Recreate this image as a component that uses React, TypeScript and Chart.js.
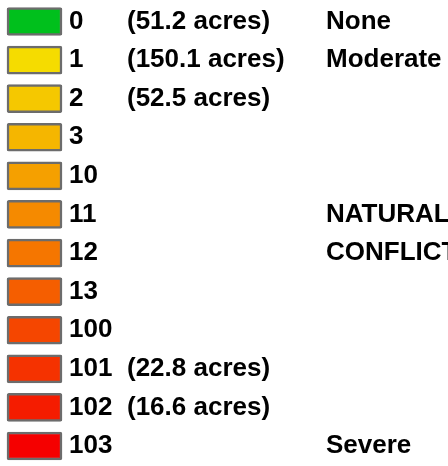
import React, { useEffect, useRef } from "react";
import { Chart, registerables } from "chart.js";

Chart.register(...registerables);

const categories = ["0", "1", "2", "3", "10", "11", "12", "13", "100", "101", "102", "103"];
const acreLabels = ["(51.2 acres)", "(150.1 acres)", "(52.5 acres)", "", "", "", "", "", "", "(22.8 acres)", "(16.6 acres)", ""];
const descriptions = ["None", "Moderate", "", "", "", "NATURAL", "CONFLICT", "", "", "", "", "Severe"];
const swatchValues = [1, 1, 1, 1, 1, 1, 1, 1, 1, 1, 1, 1];
const swatchColors = [
  "#00c01c", "#f5dc00", "#f5c800", "#f5b600", "#f5a000", "#f58a00",
  "#f57600", "#f55e00", "#f54600", "#f53200", "#f51c00", "#f50000",
];

const FONT = { family: "'Liberation Sans', Arial, sans-serif", size: 26, weight: "bold" as const, lineHeight: 1 };

function textAxis(labels: string[], weight: number, padding: number, width: number) {
  return {
    type: "category" as const,
    position: "right" as const,
    labels,
    offset: false,
    weight,
    grid: { display: false, drawTicks: false },
    border: { display: false },
    ticks: { autoSkip: false, padding, color: "#000", font: FONT },
    afterFit: (scale: any) => {
      scale.width = width;
    },
  };
}

export default function App() {
  const ref = useRef<HTMLCanvasElement>(null);
  useEffect(() => {
    document.body.style.margin = "0";
    const chart = new Chart(ref.current!, {
      type: "bar",
      data: {
        labels: categories,
        datasets: [
          {
            data: swatchValues,
            backgroundColor: swatchColors,
            borderColor: "#6c6c6c",
            borderWidth: 2.5,
            borderRadius: 2,
            borderSkipped: false,
            barThickness: 28,
            clip: false as any,
            yAxisID: "y",
            xAxisID: "x",
          },
        ],
      },
      options: {
        indexAxis: "y",
        animation: false,
        responsive: false,
        layout: { padding: { left: 7, top: 21.5, bottom: 14.5, right: 0 } },
        plugins: { legend: { display: false }, tooltip: { enabled: false } },
        scales: {
          x: { display: false, min: 0, max: 1 },
          y: textAxis(categories, 0, 7, 65),
          y2: textAxis(acreLabels, 1, 0, 199),
          y3: textAxis(descriptions, 2, 0, 122),
        } as any,
      },
    });
    return () => chart.destroy();
  }, []);
  return <canvas ref={ref} width={448} height={466} style={{ display: "block" }} />;
}
